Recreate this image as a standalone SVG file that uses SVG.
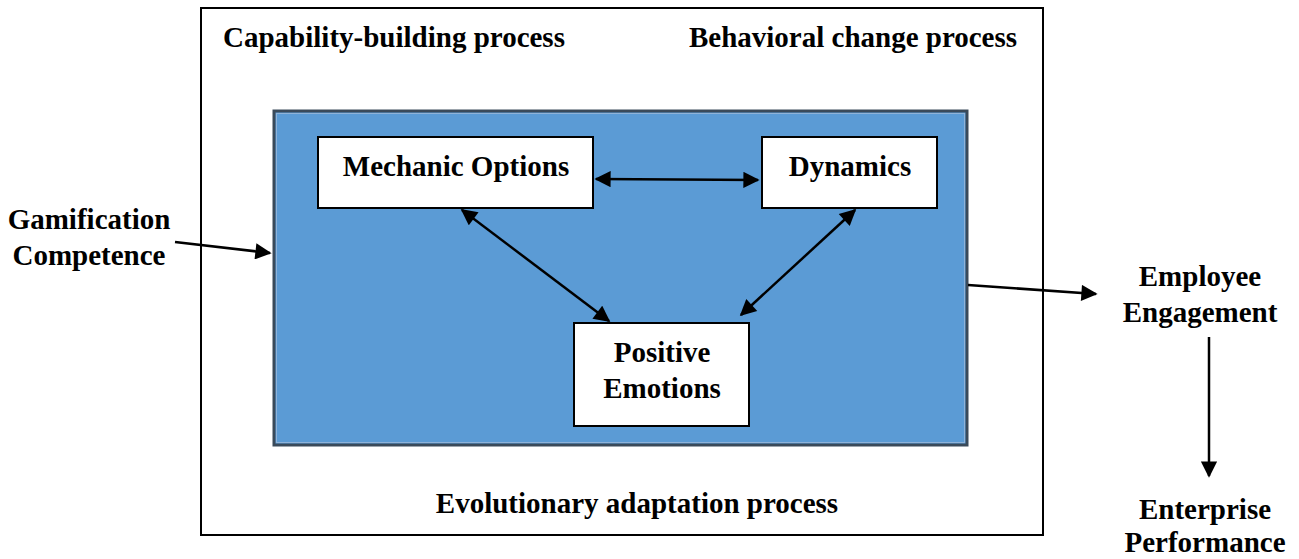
<svg xmlns="http://www.w3.org/2000/svg" width="1299" height="559" viewBox="0 0 1299 559">
<style>
text{font-family:"Liberation Serif","Times New Roman",serif;font-weight:bold;font-size:29px;fill:#000;text-anchor:middle}
.box{fill:#fff;stroke:#000;stroke-width:2}
.c{stroke:#000;stroke-width:2.5;fill:none}
</style>
<defs>
<marker id="ah" viewBox="0 0 10 10" refX="9" refY="5" markerWidth="7" markerHeight="6.5" orient="auto-start-reverse" markerUnits="strokeWidth">
<path d="M0,0 L10,5 L0,10 z" fill="#000"/>
</marker>
</defs>
<rect width="1299" height="559" fill="#fff"/>
<g id="outer">
<rect x="201" y="8" width="842" height="527" fill="none" stroke="#000" stroke-width="2"/>
<text x="394" y="47">Capability-building process</text>
<text x="853" y="47">Behavioral change process</text>
<text x="637" y="513">Evolutionary adaptation process</text>
</g>
<g id="core">
<rect x="274" y="111" width="693" height="334" fill="#5B9BD5" stroke="#3a4a5a" stroke-width="3"/>
<rect x="276.5" y="113.5" width="688" height="329" fill="none" stroke="#8fb3d9" stroke-width="1"/>
</g>
<g id="mechanic">
<rect class="box" x="318" y="137" width="275" height="71"/>
<text x="456" y="176">Mechanic Options</text>
</g>
<g id="dynamics">
<rect class="box" x="762" y="137" width="175" height="71"/>
<text x="850" y="176">Dynamics</text>
</g>
<g id="positive">
<rect class="box" x="574" y="323" width="175" height="103"/>
<text x="662" y="362">Positive</text>
<text x="662" y="398">Emotions</text>
</g>
<g id="gamification">
<text x="89" y="229">Gamification</text>
<text x="89" y="265">Competence</text>
</g>
<g id="employee">
<text x="1200" y="286">Employee</text>
<text x="1200" y="322">Engagement</text>
</g>
<g id="enterprise">
<text x="1205" y="519">Enterprise</text>
<text x="1205" y="552">Performance</text>
</g>
<g id="connectors">
<line class="c" x1="596" y1="179" x2="758" y2="180" marker-start="url(#ah)" marker-end="url(#ah)"/>
<line class="c" x1="462" y1="210" x2="609" y2="321" marker-start="url(#ah)" marker-end="url(#ah)"/>
<line class="c" x1="855" y1="210" x2="741" y2="315" marker-start="url(#ah)" marker-end="url(#ah)"/>
<line class="c" x1="175" y1="242" x2="270" y2="253" marker-end="url(#ah)"/>
<line class="c" x1="968" y1="285" x2="1096" y2="294" marker-end="url(#ah)"/>
<line class="c" x1="1209" y1="337" x2="1209" y2="476" marker-end="url(#ah)"/>
</g>
</svg>
